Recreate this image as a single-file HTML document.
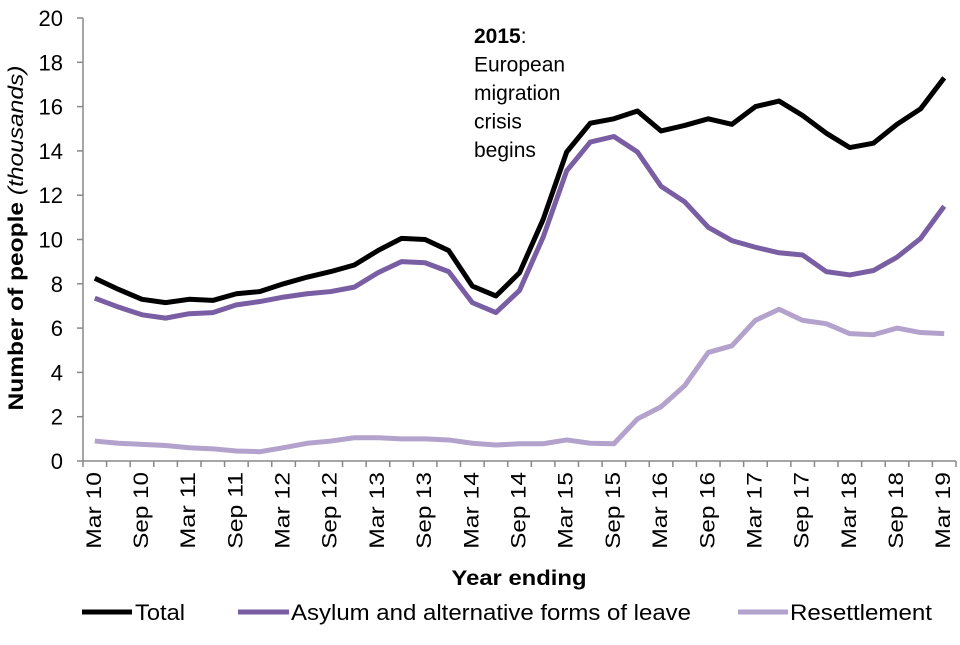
<!DOCTYPE html>
<html><head><meta charset="utf-8"><style>
body{margin:0;background:#fff;font-family:"Liberation Sans",Arial,sans-serif}
svg text{font-family:"Liberation Sans",Arial,sans-serif}
</style></head><body>
<svg id="chart" width="960" height="640" viewBox="0 0 960 640">
<g id="grid"></g><g id="series"></g>
<text x="474" y="43" font-size="21" fill="#000"><tspan font-weight="bold">2015</tspan>:<tspan x="474" dy="28.5">European</tspan><tspan x="474" dy="28.5">migration</tspan><tspan x="474" dy="28.5">crisis</tspan><tspan x="474" dy="28.5">begins</tspan></text>
<text transform="translate(23,238) rotate(-90)" text-anchor="middle" font-size="21" font-weight="bold" textLength="345" lengthAdjust="spacingAndGlyphs">Number of people <tspan font-style="italic" font-weight="normal">(thousands)</tspan></text>
<text x="519" y="585" text-anchor="middle" font-size="21" font-weight="bold" textLength="135" lengthAdjust="spacingAndGlyphs">Year ending</text>
<g>
<g><line x1="82" y1="612" x2="132" y2="612" stroke="#000" stroke-width="5"/><text x="135" y="620" font-size="22" textLength="50" lengthAdjust="spacingAndGlyphs">Total</text></g>
<g><line x1="238" y1="612" x2="289" y2="612" stroke="#7a5ea3" stroke-width="5"/><text x="291" y="620" font-size="22" textLength="400" lengthAdjust="spacingAndGlyphs">Asylum and alternative forms of leave</text></g>
<g><line x1="738" y1="612" x2="788" y2="612" stroke="#b3a2cc" stroke-width="5"/><text x="790" y="620" font-size="22" textLength="142" lengthAdjust="spacingAndGlyphs">Resettlement</text></g>
</g>
</svg>
<script>
const periods=["Mar 10","Jun 10","Sep 10","Dec 10","Mar 11","Jun 11","Sep 11","Dec 11","Mar 12","Jun 12","Sep 12","Dec 12","Mar 13","Jun 13","Sep 13","Dec 13","Mar 14","Jun 14","Sep 14","Dec 14","Mar 15","Jun 15","Sep 15","Dec 15","Mar 16","Jun 16","Sep 16","Dec 16","Mar 17","Jun 17","Sep 17","Dec 17","Mar 18","Jun 18","Sep 18","Dec 18","Mar 19"];
const totalValues=[8.25,7.75,7.3,7.15,7.3,7.25,7.55,7.65,8.0,8.3,8.55,8.85,9.5,10.05,10.0,9.5,7.9,7.45,8.5,10.9,13.95,15.25,15.45,15.8,14.9,15.15,15.45,15.2,16.0,16.25,15.6,14.8,14.15,14.35,15.2,15.9,17.3];
const asylumValues=[7.35,6.95,6.6,6.45,6.65,6.7,7.05,7.2,7.4,7.55,7.65,7.85,8.5,9.0,8.95,8.55,7.15,6.7,7.7,10.1,13.1,14.4,14.65,13.95,12.4,11.7,10.55,9.95,9.65,9.4,9.3,8.55,8.4,8.6,9.2,10.05,11.5];
const resettlementValues=[0.9,0.8,0.75,0.7,0.6,0.55,0.45,0.42,0.6,0.8,0.9,1.05,1.05,1.0,1.0,0.95,0.8,0.72,0.78,0.78,0.95,0.8,0.78,1.9,2.45,3.4,4.9,5.2,6.35,6.85,6.35,6.2,5.75,5.7,6.0,5.8,5.75];
const yTicks=[0,2,4,6,8,10,12,14,16,18,20];
const NS="http://www.w3.org/2000/svg";
const X0=83,X1=956,Y0=461,Y1=18,YMAX=20;
const step=(X1-X0)/periods.length;
const x=i=>X0+step*(i+0.5);
const y=v=>Y0-(Y0-Y1)*v/YMAX;
const grid=document.getElementById('grid'),ser=document.getElementById('series');
function mk(t,a,p){const e=document.createElementNS(NS,t);for(const k in a)e.setAttribute(k,a[k]);p.appendChild(e);return e;}
const ya=mk('line',{x1:X0,y1:Y1,x2:X0,y2:Y0,stroke:'#888','stroke-width':1.5},grid);


const xa=mk('line',{x1:X0,y1:Y0,x2:X1,y2:Y0,stroke:'#888','stroke-width':1.5},grid);


yTicks.forEach(v=>{
 mk('line',{x1:X0-6,y1:y(v),x2:X0,y2:y(v),stroke:'#888','stroke-width':1.5},grid);
 const t=mk('text',{x:X0-20,y:y(v)+8,'text-anchor':'end','font-size':22},grid);t.textContent=v;
 
 
});
for(let i=0;i<=periods.length;i++)mk('line',{x1:X0+step*i,y1:Y0,x2:X0+step*i,y2:Y0+6,stroke:'#888','stroke-width':1.5},grid);
periods.forEach((p,i)=>{if(i%2)return;
 const t=mk('text',{transform:`translate(${x(i)+6},${Y0+11}) rotate(-90)`,'text-anchor':'end','font-size':21,textLength:p.length*12.8,lengthAdjust:'spacingAndGlyphs'},grid);t.textContent=p;
 
 
});
[[resettlementValues,'#b3a2cc','resettlement-line'],[asylumValues,'#7a5ea3','asylum-line'],[totalValues,'#000','total-line']].forEach(([d,c,n])=>{
 const pl=mk('polyline',{points:d.map((v,i)=>x(i)+','+y(v)).join(' '),fill:'none',stroke:c,'stroke-width':5,'stroke-linejoin':'round'},ser);
 
 
});
</script>
</body></html>
